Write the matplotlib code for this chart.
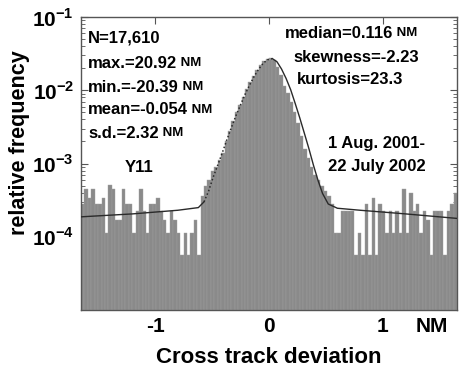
import numpy as np
import matplotlib
matplotlib.use("Agg")
import matplotlib.pyplot as plt
from matplotlib.ticker import FixedLocator, LogLocator, NullFormatter

plt.rcParams['font.family'] = ['Liberation Sans', 'DejaVu Sans']
plt.rcParams['mathtext.fontset'] = 'custom'
plt.rcParams['mathtext.rm'] = 'Liberation Sans:bold'
plt.rcParams['mathtext.bf'] = 'Liberation Sans:bold'

# ---- data ----
bin_start = -1.65
bin_width = 0.03
rel_freq = [
    # left tail  (-1.65 .. -0.60)
    2.84e-4, 4.54e-4, 3.41e-4, 4.54e-4, 2.84e-4, 2.84e-4, 3.41e-4, 1.14e-4, 5.1e-4, 4.54e-4,
    1.7e-4, 1.7e-4, 4.54e-4, 2.84e-4, 2.84e-4, 1.14e-4, 2.27e-4, 4.54e-4, 2.27e-4, 1.14e-4,
    2.84e-4, 2.84e-4, 3.41e-4, 2.27e-4, 1.7e-4, 1.14e-4, 2.27e-4, 1.7e-4, 1.14e-4, 5.7e-5,
    1.14e-4, 5.7e-5, 1.14e-4, 1.7e-4, 5.7e-5,
    # core (-0.60 .. 0.54)
    3.6e-4, 4.9e-4, 6.0e-4, 7.8e-4, 9.0e-4, 1.1e-3, 1.4e-3, 2.0e-3, 2.8e-3, 3.8e-3,
    5.0e-3, 6.3e-3, 8.2e-3, 1.05e-2, 1.3e-2, 1.55e-2, 1.9e-2, 2.2e-2, 2.5e-2, 2.7e-2,
    2.8e-2, 2.6e-2, 2.1e-2, 1.6e-2, 1.15e-2, 9.2e-3, 7.0e-3, 5.0e-3, 3.6e-3, 2.4e-3,
    1.6e-3, 1.2e-3, 9.0e-4, 7.0e-4, 6.0e-4, 5.0e-4, 4.2e-4, 3.6e-4,
    # right tail (0.54 .. 1.65)
    2.84e-4, 1.14e-4, 1.14e-4, 2.27e-4, 2.27e-4, 2.27e-4, 2.27e-4, 5.7e-5, 1.14e-4, 5.7e-5,
    2.84e-4, 5.7e-5, 3.41e-4, 5.7e-5, 2.84e-4, 2.27e-4, 1.14e-4, 2.27e-4, 1.14e-4, 2.27e-4,
    1.14e-4, 4.54e-4, 1.14e-4, 3.98e-4, 2.27e-4, 2.84e-4, 1.14e-4, 2.27e-4, 1.7e-4, 5.7e-5,
    2.27e-4, 2.27e-4, 2.27e-4, 5.7e-5, 2.27e-4, 2.84e-4, 3.98e-4,
]

fit_x = [-1.65, -1.2, -0.8, -0.62, -0.57, -0.53, -0.49, -0.45, -0.41, -0.37, -0.33, -0.29,
         -0.25, -0.21, -0.17, -0.13, -0.09, -0.05, -0.01, 0.03, 0.07, 0.11, 0.15, 0.19,
         0.23, 0.27, 0.31, 0.35, 0.39, 0.43, 0.47, 0.52, 0.6, 0.8, 1.2, 1.65]
fit_y = [1.87e-4, 2.05e-4, 2.3e-4, 2.5e-4, 3.0e-4, 4.2e-4, 6.5e-4, 9.5e-4, 1.4e-3, 2.1e-3,
         3.1e-3, 4.5e-3, 6.3e-3, 8.8e-3, 1.18e-2, 1.55e-2, 1.95e-2, 2.35e-2, 2.62e-2, 2.7e-2,
         2.45e-2, 1.95e-2, 1.45e-2, 1.02e-2, 6.6e-3, 4.2e-3, 2.6e-3, 1.6e-3, 9.5e-4, 5.9e-4,
         3.9e-4, 2.8e-4, 2.45e-4, 2.3e-4, 2.05e-4, 1.78e-4]

ytick_vals = [1e-4, 1e-3, 1e-2, 1e-1]
ytick_labels = [r'$10^{-4}$', r'$10^{-3}$', r'$10^{-2}$', r'$10^{-1}$']
xtick_vals = [-1, 0, 1]
xtick_labels = ['-1', '0', '1']

stats_left = [("N=17,610", False), ("max.=20.92", True), ("min.=-20.39", True),
              ("mean=-0.054", True), ("s.d.=2.32", True)]
stats_right = [("median=0.116", True), ("skewness=-2.23", False), ("kurtosis=23.3", False)]

# ---- figure ----
fig = plt.figure(figsize=(4.61, 3.70), dpi=100)
ax = fig.add_axes([0.1757, 0.1622, 0.8156, 0.7918])
ymin = 1e-5
ax.set_yscale('log')
ax.set_xlim(-1.65, 1.65)
ax.set_ylim(ymin, 1e-1)

edges = bin_start + bin_width * np.arange(len(rel_freq))
h = np.array(rel_freq)
ax.bar(edges, h - ymin, bottom=ymin, width=bin_width, align='edge',
       color='#8a8a8a', edgecolor='#a0a0a0', linewidth=0.3, zorder=2)

fx = np.array(fit_x)
fy = np.array(fit_y)
left_core = (fx >= -0.57) & (fx <= 0.03)
ax.plot(fx[fx <= -0.57], fy[fx <= -0.57], color='#2a2a2a', lw=1.0, zorder=3)
ax.plot(fx[left_core], fy[left_core], color='#2a2a2a', lw=1.1, ls=(0, (1, 1.5)), zorder=3)
ax.plot(fx[fx >= 0.03], fy[fx >= 0.03], color='#2a2a2a', lw=1.0, zorder=3)

ax.yaxis.set_major_locator(FixedLocator(ytick_vals))
ax.set_yticklabels(ytick_labels)
ax.yaxis.set_minor_locator(LogLocator(base=10, subs=np.arange(2, 10), numticks=20))
ax.yaxis.set_minor_formatter(NullFormatter())
ax.set_xticks(xtick_vals)
ax.set_xticklabels(xtick_labels)

ax.tick_params(axis='both', which='both', direction='in', top=True, right=True,
               color='#555555')
ax.tick_params(axis='both', which='major', length=5, width=0.8, labelsize=15, pad=5)
ax.tick_params(axis='y', which='minor', length=3, width=0.6)
for lab in ax.get_xticklabels() + ax.get_yticklabels():
    lab.set_fontweight('bold')
for sp in ax.spines.values():
    sp.set_color('#555555')
    sp.set_linewidth(1.0)

ax.set_ylabel('relative frequency', fontsize=15.5, fontweight='bold', labelpad=1)
ax.yaxis.set_label_coords(-0.135, 0.57)
ax.set_xlabel('Cross track deviation', fontsize=16, fontweight='bold', labelpad=8)
fig.text(432 / 461, 1 - 327 / 370, 'NM', fontsize=15, fontweight='bold',
         ha='center', va='center')

def put(x_px, y_px, s, nm, ha='left'):
    t = fig.text(x_px / 461, 1 - y_px / 370, s, fontsize=12, fontweight='bold',
                 ha=ha, va='center', zorder=5)
    if nm:
        fig.canvas.draw()
        ax.annotate(' NM', xy=(1, 0.5), xycoords=t, fontsize=9.5, fontweight='bold',
                    ha='left', va='center', annotation_clip=False)
    return t

ys_left = [38, 63, 87, 110, 133]
for (s, nm), y in zip(stats_left, ys_left):
    put(88, y, s, nm)
put(125, 168, 'Y11', False)

put(285, 33, stats_right[0][0], True)
put(293, 57, stats_right[1][0], False)
put(297, 80, stats_right[2][0], False)
put(328, 143, '1 Aug. 2001-', False)
put(328, 166, '22 July 2002', False)

fig.savefig('out.png', dpi=100)
